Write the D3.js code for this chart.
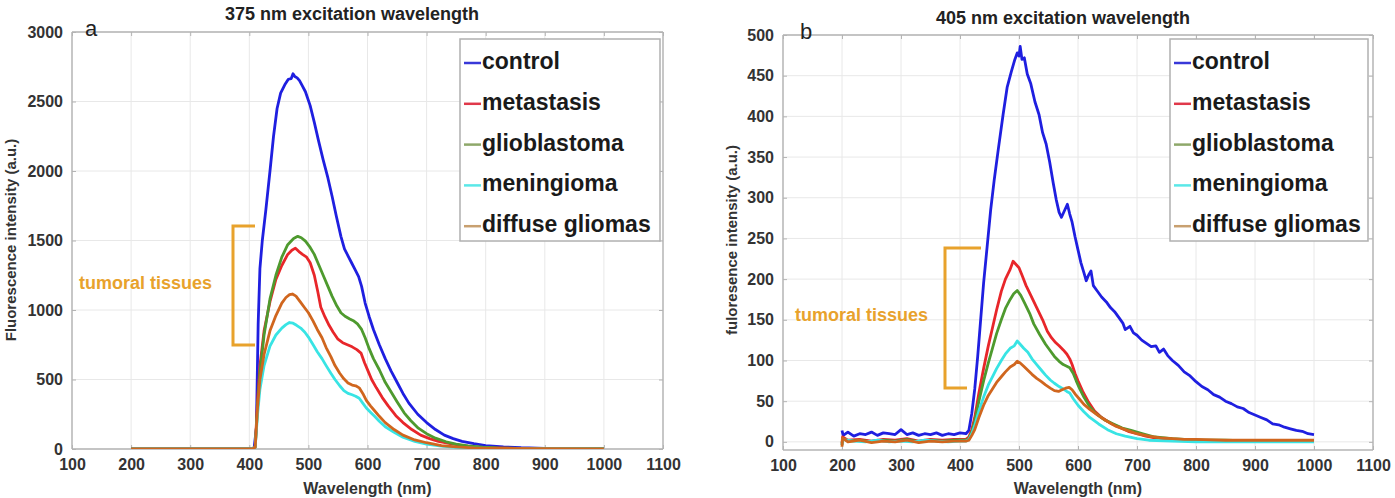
<!DOCTYPE html>
<html>
<head>
<meta charset="utf-8">
<script src="https://cdn.jsdelivr.net/npm/d3@7"></script>
<style>
  body { margin: 0; background: #fff; }
  svg text { font-family: "Liberation Sans", Arial, sans-serif; }
</style>
</head>
<body>
<svg id="chart" width="1395" height="498"></svg>
<script>
// ---- data ----
const xTicks = [100, 200, 300, 400, 500, 600, 700, 800, 900, 1000, 1100];
const yTicksA = [0, 500, 1000, 1500, 2000, 2500, 3000];
const yTicksB = [0, 50, 100, 150, 200, 250, 300, 350, 400, 450, 500];
const seriesNames = ['control', 'metastasis', 'glioblastoma', 'meningioma', 'diffuse gliomas'];

// panel a : 375 nm excitation  [wavelength, intensity]
const a_control = [[200,0],[400,0],[408,3],[412,150],[415,900],[418,1300],[422,1500],[428,1720],[435,2000],[441,2250],[447,2450],[453,2560],[460,2620],[466,2660],[471,2665],[474,2700],[477,2680],[481,2670],[485,2650],[490,2610],[495,2570],[503,2470],[510,2350],[517,2220],[525,2080],[533,1950],[540,1820],[547,1680],[555,1530],[561,1440],[567,1390],[573,1340],[579,1290],[585,1240],[590,1170],[596,1050],[603,950],[610,860],[620,750],[630,650],[640,560],[650,480],[660,400],[670,330],[685,250],[700,190],[715,140],[730,100],[745,75],[760,55],[780,38],[800,25],[830,15],[860,9],[900,5],[950,3],[1000,3]];
const a_metastasis = [[200,0],[405,0],[410,15],[414,350],[418,600],[425,850],[435,1060],[445,1220],[455,1320],[465,1400],[472,1430],[478,1445],[484,1420],[490,1400],[497,1380],[503,1340],[510,1250],[516,1130],[521,1020],[528,950],[535,890],[542,840],[550,790],[558,765],[566,750],[574,735],[582,715],[589,690],[595,620],[601,560],[607,500],[615,440],[625,370],[635,310],[648,240],[660,190],[675,140],[690,100],[705,75],[720,55],[740,38],[760,25],[780,16],[800,10],[850,5],[900,3],[1000,2]];
const a_glioblastoma = [[200,0],[405,0],[410,15],[414,300],[418,550],[425,820],[435,1080],[445,1250],[455,1380],[465,1470],[475,1515],[482,1530],[488,1520],[495,1495],[503,1450],[510,1400],[518,1320],[525,1250],[533,1170],[540,1100],[548,1030],[555,980],[562,955],[570,935],[577,920],[583,900],[590,860],[596,800],[603,720],[610,650],[620,570],[630,480],[640,410],[650,340],[662,260],[673,205],[686,150],[700,110],[715,78],[733,52],[750,35],[770,22],[795,13],[820,8],[860,5],[900,3],[1000,2]];
const a_meningioma = [[200,0],[405,0],[410,12],[414,250],[418,430],[425,600],[435,740],[445,820],[455,870],[462,895],[468,910],[474,905],[480,890],[487,870],[494,840],[500,805],[508,750],[515,700],[523,650],[530,600],[538,545],[545,500],[553,455],[560,420],[567,400],[574,390],[580,380],[586,365],[592,330],[598,295],[605,265],[612,235],[620,200],[630,160],[645,120],[660,85],[680,55],[700,35],[725,20],[750,12],[780,7],[820,4],[900,2],[1000,1]];
const a_diffuse = [[200,0],[405,0],[410,12],[414,300],[418,500],[425,680],[435,850],[445,960],[455,1050],[462,1090],[468,1110],[473,1115],[479,1100],[486,1060],[493,1020],[500,980],[508,920],[515,860],[523,800],[530,730],[538,665],[545,600],[553,545],[560,505],[567,475],[574,460],[580,455],[586,440],[592,400],[598,350],[605,310],[612,275],[620,235],[630,190],[645,140],[660,100],[680,65],[700,45],[725,25],[750,15],[780,8],[820,5],[900,2],[1000,1]];

// panel b : 405 nm excitation
const b_control = [[200,14],[202,8],[210,12],[220,7],[230,10],[240,9],[250,12],[260,8],[270,11],[280,10],[290,9],[300,15],[310,9],[320,11],[330,8],[340,10],[350,9],[360,11],[370,8],[380,10],[390,9],[400,11],[410,10],[415,14],[420,35],[425,65],[430,105],[435,150],[440,195],[446,240],[452,285],[458,322],[465,360],[473,402],[480,436],[487,455],[493,470],[497,478],[500,474],[502,486],[505,470],[509,472],[514,452],[520,440],[527,418],[534,402],[540,380],[546,366],[552,344],[558,318],[563,298],[568,282],[572,276],[577,284],[582,292],[586,280],[590,270],[595,252],[600,236],[605,220],[610,208],[614,198],[618,205],[622,210],[626,192],[632,186],[640,178],[648,172],[655,165],[662,160],[670,152],[676,146],[680,138],[688,142],[694,134],[700,131],[708,125],[716,121],[724,117],[732,118],[738,110],[745,114],[752,106],[760,100],[770,94],[780,86],[790,81],[800,74],[810,68],[820,64],[830,58],[840,55],[850,50],[860,47],[870,43],[880,41],[890,36],[900,33],[910,30],[920,27],[930,22],[940,21],[950,18],[960,16],[970,14],[980,13],[990,10],[1000,9]];
const b_metastasis = [[200,-2],[201,6],[210,2],[230,3],[250,1],[270,3],[290,2],[310,4],[330,1],[350,3],[370,2],[390,3],[410,3],[415,6],[420,15],[425,30],[432,60],[440,90],[448,118],[455,140],[462,162],[470,185],[477,200],[485,212],[490,222],[495,218],[500,214],[505,205],[512,192],[520,180],[530,165],[540,150],[548,136],[555,128],[562,122],[568,118],[575,113],[581,108],[586,102],[590,95],[595,84],[600,75],[608,62],[617,50],[628,38],[640,30],[655,23],[670,18],[685,13],[700,10],[715,7],[730,5],[760,3],[800,2],[850,1],[900,1],[1000,1]];
const b_glioblastoma = [[200,-4],[201,4],[210,1],[230,2],[250,0],[270,2],[290,1],[310,3],[330,0],[350,2],[370,1],[390,2],[410,2],[415,4],[420,12],[425,25],[432,50],[440,75],[448,97],[455,115],[462,133],[470,150],[477,164],[485,175],[491,182],[497,186],[503,180],[510,170],[518,158],[525,145],[535,132],[545,120],[553,112],[560,105],[568,99],[575,95],[581,93],[586,91],[592,84],[597,75],[603,65],[610,55],[620,43],[630,35],[645,27],[660,22],[675,17],[690,14],[710,10],[730,6],[760,4],[800,2],[850,2],[900,1],[1000,1]];
const b_meningioma = [[200,-3],[201,3],[220,1],[240,0],[260,2],[280,0],[300,1],[320,0],[340,2],[360,1],[380,0],[400,1],[410,1],[415,3],[420,10],[425,20],[432,38],[440,55],[448,70],[455,80],[462,90],[470,100],[477,108],[485,115],[492,118],[497,124],[502,120],[508,115],[515,110],[522,102],[530,95],[538,88],[545,82],[553,76],[560,72],[568,68],[575,65],[581,62],[586,60],[592,53],[600,45],[610,37],[620,30],[635,22],[650,15],[665,10],[680,7],[700,4],[720,2],[760,1],[800,0],[900,0],[1000,0]];
const b_diffuse = [[200,-6],[201,5],[210,0],[230,2],[250,-1],[270,1],[290,0],[310,2],[330,-1],[350,1],[370,0],[390,1],[410,1],[415,2],[420,8],[425,15],[432,30],[440,45],[448,57],[455,65],[462,73],[470,80],[477,86],[485,92],[492,95],[497,99],[502,97],[508,93],[515,88],[522,83],[530,78],[538,74],[545,70],[553,66],[560,63],[567,62],[573,64],[579,66],[585,67],[590,64],[596,58],[602,53],[610,46],[620,40],[635,32],[650,25],[665,19],[680,15],[700,10],[720,7],[740,5],[760,4],[780,3],[800,3],[850,2],[900,2],[950,2],[1000,2]];

const colors = ['#1f1fe0', '#e8262a', '#4e9a2e', '#38e4e4', '#d0661e'];
const legendColors = ['#3838d8', '#e0384a', '#8ea86a', '#5ae8e8', '#c8a070'];
const bracketColor = '#e8a22c';

const svg = d3.select('#chart');

function drawPanel(opt) {
  const x = d3.scaleLinear().domain([100, 1100]).range([opt.left, opt.right]);
  const y = d3.scaleLinear().domain(opt.yDomain).range([opt.bottom, opt.top]);
  const g = svg.append('g');
  const fmt = d3.format('d');

  // grid
  g.selectAll('.gx').data(xTicks.slice(1, -1)).enter().append('line')
    .attr('x1', d => x(d)).attr('x2', d => x(d))
    .attr('y1', opt.top).attr('y2', opt.bottom)
    .attr('stroke', '#e8e8e8').attr('stroke-width', 1);
  g.selectAll('.gy').data(opt.yTicks).enter().append('line')
    .attr('x1', opt.left).attr('x2', opt.right)
    .attr('y1', d => y(d)).attr('y2', d => y(d))
    .attr('stroke', '#e8e8e8').attr('stroke-width', 1);

  // axes (inward ticks, MATLAB box)
  const xa = g.append('g').attr('transform', `translate(0,${opt.bottom})`)
    .call(d3.axisBottom(x).tickValues(xTicks).tickFormat(fmt).tickSize(-4).tickPadding(10));
  const xt = g.append('g').attr('transform', `translate(0,${opt.top})`)
    .call(d3.axisTop(x).tickValues(xTicks).tickSize(-4).tickFormat(''));
  const ya = g.append('g').attr('transform', `translate(${opt.left},0)`)
    .call(d3.axisLeft(y).tickValues(opt.yTicks).tickFormat(fmt).tickSize(-4).tickPadding(9));
  const yr = g.append('g').attr('transform', `translate(${opt.right},0)`)
    .call(d3.axisRight(y).tickValues(opt.yTicks).tickSize(-4).tickFormat(''));
  [xa, xt, ya, yr].forEach(a => {
    a.select('.domain').attr('stroke', '#b4b4b4').attr('stroke-width', 1.5);
    a.selectAll('.tick line').attr('stroke', '#b4b4b4');
    a.selectAll('text').attr('fill', '#333').attr('font-size', 16)
      .attr('font-weight', 'bold').attr('font-family', '"Liberation Sans", Arial, sans-serif');
  });
  // plain box edges without outer tick caps
  xa.select('.domain').attr('d', `M${opt.left},0H${opt.right}`);
  xt.select('.domain').attr('d', `M${opt.left},0H${opt.right}`);
  ya.select('.domain').attr('d', `M0,${opt.bottom}V${opt.top}`);
  yr.select('.domain').attr('d', `M0,${opt.bottom}V${opt.top}`);

  // curves
  const line = d3.line().x(d => x(d[0])).y(d => y(d[1]));
  const clip = 'clip' + opt.id;
  svg.append('clipPath').attr('id', clip).append('rect')
    .attr('x', opt.left).attr('y', opt.top).attr('width', opt.right - opt.left).attr('height', opt.bottom - opt.top);
  const cg = g.append('g').attr('clip-path', `url(#${clip})`);
  opt.series.forEach((s, i) => {
    cg.append('path').datum(s).attr('d', line)
      .attr('fill', 'none').attr('stroke', colors[i])
      .attr('stroke-width', 2.8).attr('stroke-linejoin', 'round');
  });

  // titles / labels
  g.append('text').attr('x', opt.titleX).attr('y', opt.titleY).attr('text-anchor', 'middle')
    .attr('font-size', 18).attr('font-weight', 'bold').attr('fill', '#222').text(opt.title);
  g.append('text').attr('x', opt.letterX).attr('y', opt.top + 4).attr('font-size', 22)
    .attr('fill', '#222').text(opt.letter);
  g.append('text').attr('x', (opt.left + opt.right) / 2).attr('y', 494).attr('text-anchor', 'middle')
    .attr('font-size', 16).attr('font-weight', 'bold').attr('fill', '#333').text('Wavelength (nm)');
  g.append('text').attr('transform', `translate(${opt.ylabX},240) rotate(-90)`)
    .attr('text-anchor', 'middle').attr('dominant-baseline', 'middle')
    .attr('font-size', 15).attr('font-weight', 'bold').attr('fill', '#333').text(opt.ylabel);

  // legend
  const lg = g.append('g');
  lg.append('rect').attr('x', opt.legX).attr('y', 39).attr('width', opt.legW).attr('height', 202)
    .attr('fill', '#fff').attr('stroke', '#b0b0b0').attr('stroke-width', 1.5);
  seriesNames.forEach((n, i) => {
    const yy = 63 + i * 40.8;
    lg.append('line').attr('x1', opt.legX + 4).attr('x2', opt.legX + 21)
      .attr('y1', yy).attr('y2', yy).attr('stroke', legendColors[i]).attr('stroke-width', 2.5);
    lg.append('text').attr('x', opt.legX + 22).attr('y', yy).attr('dominant-baseline', 'middle')
      .attr('font-size', 23).attr('font-weight', 'bold').attr('fill', '#1a1a1a').text(n);
  });

  // tumoral tissues bracket
  const b = opt.bracket;
  g.append('path')
    .attr('d', `M${b.x + b.wTop},${b.y0}H${b.x}V${b.y1}H${b.x + b.wBot}`)
    .attr('fill', 'none').attr('stroke', bracketColor).attr('stroke-width', 3);
  g.append('text').attr('x', b.tx).attr('y', b.ty).attr('font-size', 18).attr('font-weight', 'bold')
    .attr('fill', bracketColor).attr('dominant-baseline', 'middle').text('tumoral tissues');
}

drawPanel({
  id: 'a', left: 72, right: 663, top: 32, bottom: 449,
  yDomain: [0, 3000], yTicks: yTicksA,
  series: [a_control, a_metastasis, a_glioblastoma, a_meningioma, a_diffuse],
  title: '375 nm excitation wavelength', titleX: 352, titleY: 20,
  letter: 'a', letterX: 85,
  ylabel: 'Fluorescence intensity (a.u.)', ylabX: 12,
  legX: 460, legW: 200,
  bracket: { x: 233, y0: 226, y1: 345, wTop: 22, wBot: 22, tx: 79, ty: 284 }
});

drawPanel({
  id: 'b', left: 783, right: 1373, top: 35, bottom: 450,
  yDomain: [-10, 500], yTicks: yTicksB,
  series: [b_control, b_metastasis, b_glioblastoma, b_meningioma, b_diffuse],
  title: '405 nm excitation wavelength', titleX: 1063, titleY: 24,
  letter: 'b', letterX: 800,
  ylabel: 'fuloresence intensity (a.u.)', ylabX: 733,
  legX: 1170, legW: 198,
  bracket: { x: 945, y0: 248, y1: 388, wTop: 36, wBot: 22, tx: 795, ty: 316 }
});
</script>
</body>
</html>
